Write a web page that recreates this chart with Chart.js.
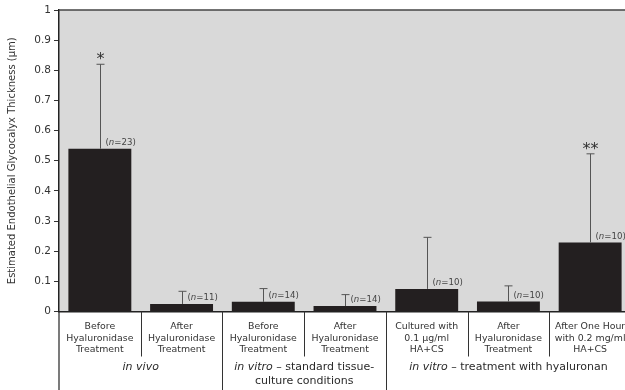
<!DOCTYPE html>
<html>
<head>
<meta charset="utf-8">
<script src="https://cdn.jsdelivr.net/npm/chart.js@4/dist/chart.umd.min.js"></script>
<style>
  html, body { margin: 0; padding: 0; background: #fff; overflow: hidden; }
  #wrap { width: 632px; height: 390px; }
</style>
</head>
<body>
<div id="wrap"><canvas id="c" width="632" height="390"></canvas></div>
<script>
// Glycocalyx thickness per condition (µm), upper SD and sample sizes
const categories = [
  ['Before', 'Hyaluronidase', 'Treatment'],
  ['After', 'Hyaluronidase', 'Treatment'],
  ['Before', 'Hyaluronidase', 'Treatment'],
  ['After', 'Hyaluronidase', 'Treatment'],
  ['Cultured with', '0.1 µg/ml', 'HA+CS'],
  ['After', 'Hyaluronidase', 'Treatment'],
  ['After One Hour', 'with 0.2 mg/ml', 'HA+CS']
];
const thickness = [0.54, 0.025, 0.032, 0.018, 0.075, 0.033, 0.229];
const errorUp   = [0.28, 0.042, 0.044, 0.038, 0.171, 0.052, 0.294];
const sampleN   = [23, 11, 14, 14, 10, 10, 10];
const significance = ['*', '', '', '', '', '', '**'];
// Groups: [first index, last index, label lines as [italic part, normal part]]
const groups = [
  { from: 0, to: 1, lines: [['in vivo', '']] },
  { from: 2, to: 3, lines: [['in vitro', ' \u2013 standard tissue-'], ['', 'culture conditions']] },
  { from: 4, to: 6, lines: [['in vitro', ' \u2013 treatment with hyaluronan']] }
];

const FONT = '"DejaVu Sans", Verdana, sans-serif';
const INK = '#2a2a2a';

const decorations = {
  id: 'decorations',
  beforeDraw(chart) {
    const { ctx, chartArea: a } = chart;
    ctx.save();
    ctx.fillStyle = '#d9d9d9';
    ctx.fillRect(a.left, a.top, a.right - a.left, a.bottom - a.top);
    ctx.restore();
  },
  afterDatasetsDraw(chart) {
    const { ctx } = chart;
    const ys = chart.scales.y;
    const meta = chart.getDatasetMeta(0);
    ctx.save();
    // error bars (upper only)
    meta.data.forEach((bar, i) => {
      const x = Math.round(bar.x) + 0.5;
      const y0 = ys.getPixelForValue(thickness[i]);
      const y1 = ys.getPixelForValue(thickness[i] + errorUp[i]);
      ctx.strokeStyle = '#555';
      ctx.lineWidth = 1;
      ctx.beginPath();
      ctx.moveTo(x, y0);
      ctx.lineTo(x, y1);
      ctx.moveTo(x - 4, y1);
      ctx.lineTo(x + 4, y1);
      ctx.stroke();

      // sample-size label: (n=..)
      let tx = x + 5;
      const ty = y0 - 6;
      ctx.fillStyle = '#444';
      ctx.textBaseline = 'middle';
      ctx.textAlign = 'left';
      const parts = [['(', ''], ['n', 'italic '], ['=' + sampleN[i] + ')', '']];
      parts.forEach(([t, st]) => {
        ctx.font = st + '8.6px ' + FONT;
        ctx.fillText(t, tx, ty);
        tx += ctx.measureText(t).width;
      });

      if (significance[i]) {
        ctx.font = '16px ' + FONT;
        ctx.textAlign = 'center';
        ctx.fillStyle = '#333';
        ctx.fillText(significance[i], x, y1 - 4);
      }
    });
    ctx.restore();
  },
  afterDraw(chart) {
    const { ctx, chartArea: a } = chart;
    const xs = chart.scales.x;
    const H = chart.height;
    ctx.save();
    // top frame line
    ctx.strokeStyle = '#444';
    ctx.lineWidth = 1.5;
    ctx.beginPath();
    ctx.moveTo(a.left, a.top);
    ctx.lineTo(a.right, a.top);
    ctx.stroke();

    // left axis continued down through the label table
    ctx.strokeStyle = '#222';
    ctx.lineWidth = 1.2;
    ctx.beginPath();
    ctx.moveTo(a.left, a.bottom);
    ctx.lineTo(a.left, H);
    ctx.stroke();

    // dividers between categories / groups
    const groupEnds = groups.map(g => g.to);
    ctx.lineWidth = 1;
    ctx.strokeStyle = '#333';
    for (let i = 0; i < categories.length - 1; i++) {
      const bx = Math.round((xs.getPixelForValue(i) + xs.getPixelForValue(i + 1)) / 2) + 0.5;
      const full = groupEnds.includes(i);
      ctx.beginPath();
      ctx.moveTo(bx, a.bottom);
      ctx.lineTo(bx, full ? H : a.bottom + 45);
      ctx.stroke();
    }

    // group captions
    ctx.fillStyle = INK;
    ctx.textBaseline = 'middle';
    ctx.textAlign = 'left';
    groups.forEach(g => {
      const cx = (xs.getPixelForValue(g.from) + xs.getPixelForValue(g.to)) / 2;
      g.lines.forEach((ln, k) => {
        const y = a.bottom + 56 + k * 13.5;
        ctx.font = 'italic 11px ' + FONT;
        const w1 = ctx.measureText(ln[0]).width;
        ctx.font = '11px ' + FONT;
        const w2 = ctx.measureText(ln[1]).width;
        let x = cx - (w1 + w2) / 2;
        ctx.font = 'italic 11px ' + FONT;
        ctx.fillText(ln[0], x, y);
        ctx.font = '11px ' + FONT;
        ctx.fillText(ln[1], x + w1, y);
      });
    });
    ctx.restore();
  }
};

new Chart(document.getElementById('c'), {
  type: 'bar',
  data: {
    labels: categories,
    datasets: [{
      data: thickness,
      backgroundColor: '#231f20',
      barPercentage: 0.77,
      categoryPercentage: 1
    }]
  },
  options: {
    responsive: false,
    animation: false,
    devicePixelRatio: 1,
    layout: { padding: { top: 10, right: 1, left: 0, bottom: 0 } },
    plugins: { legend: { display: false }, tooltip: { enabled: false } },
    scales: {
      x: {
        grid: { display: false },
        border: { display: true, color: '#222', width: 1.5 },
        ticks: {
          color: '#333',
          font: { family: FONT, size: 9.4, lineHeight: 1.25 },
          padding: 1,
          maxRotation: 0,
          autoSkip: false
        },
        afterFit(s) { s.height = 78.5; }
      },
      y: {
        min: 0,
        max: 1,
        grid: { drawOnChartArea: false, drawTicks: true, tickLength: 5, color: '#333' },
        border: { display: true, color: '#222', width: 1.5 },
        ticks: {
          stepSize: 0.1,
          color: '#333',
          padding: 3,
          font: { family: FONT, size: 10.5 },
          callback: v => String(+v.toFixed(1))
        },
        title: {
          display: true,
          text: 'Estimated Endothelial Glycocalyx Thickness (µm)',
          color: '#333',
          font: { family: FONT, size: 10 },
          padding: { top: 6, bottom: 0 }
        },
        afterFit(s) { s.width = 59; }
      }
    }
  },
  plugins: [decorations]
});
</script>
</body>
</html>
